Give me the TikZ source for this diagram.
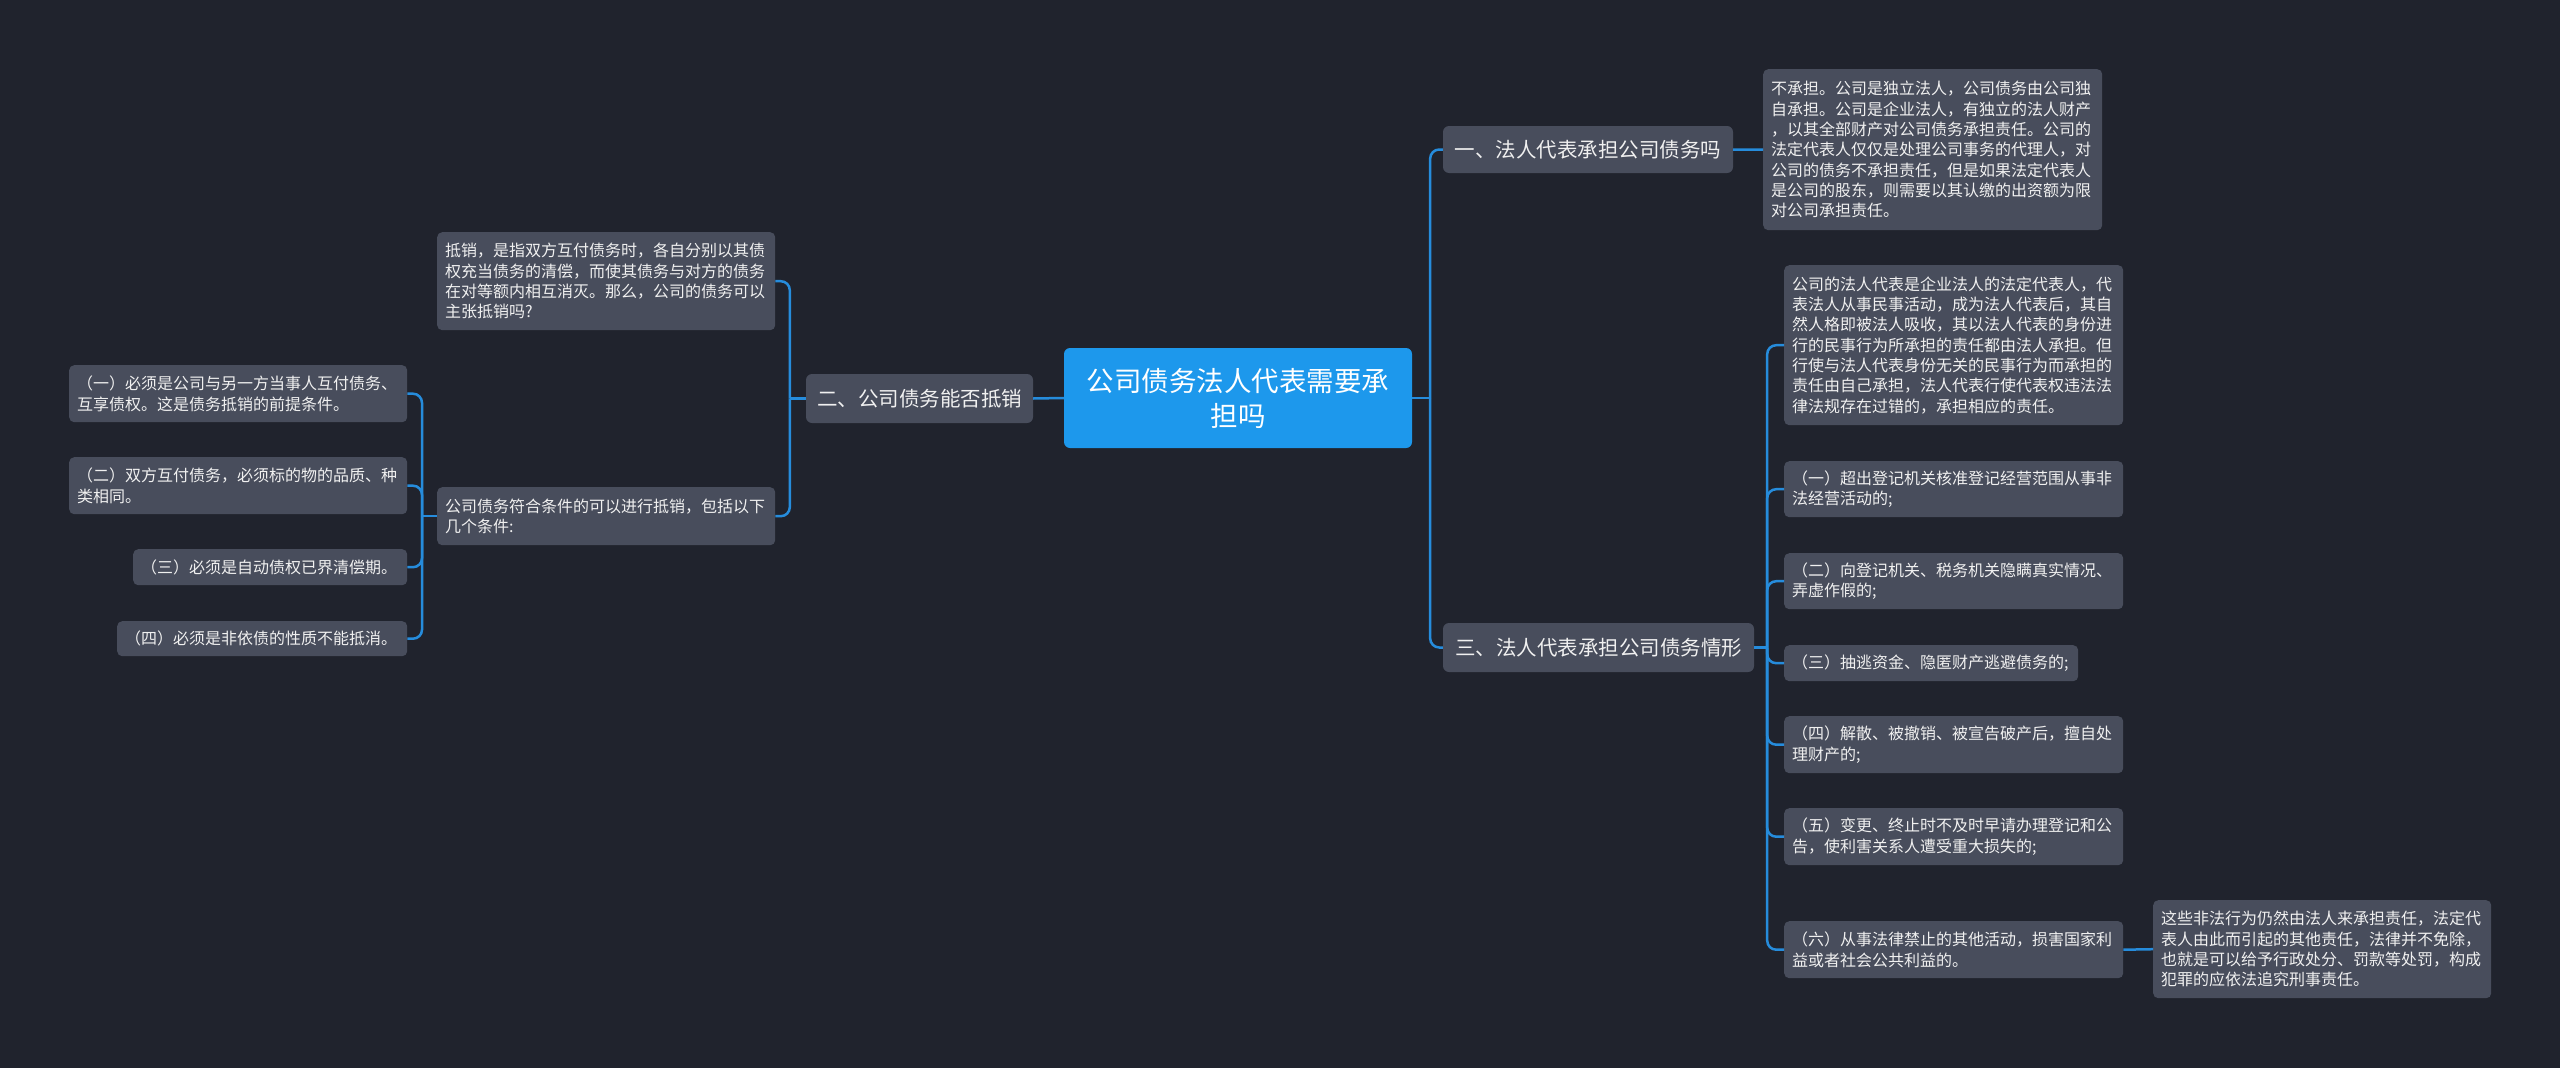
\documentclass[tikz,border=0pt]{standalone}
\usepackage{fontspec}
\usetikzlibrary{calc}
\setmainfont{Noto Sans CJK SC}
\definecolor{bg}{RGB}{32,35,45}
\definecolor{boxc}{RGB}{72,77,92}
\definecolor{centc}{RGB}{29,152,236}
\definecolor{linec}{RGB}{38,140,220}
\definecolor{txt}{RGB}{240,240,240}
\tikzset{
  leaf/.style={fill=boxc, rounded corners=5pt, text=txt, inner xsep=8pt, inner ysep=0pt,
    align=left, anchor=north west, font=\fontsize{16}{20.3}\selectfont},
  mid/.style={fill=boxc, rounded corners=6pt, text=txt, inner sep=0pt, align=center,
    font=\fontsize{20.5}{26}\selectfont},
  conn/.style={draw=linec, line width=2.5pt},
  rconn/.style={draw=linec, line width=2.5pt, rounded corners=9pt}
}
\begin{document}
\begin{tikzpicture}[x=1pt,y=-1pt]
\fill[bg] (0,0) rectangle (2560,1068);
\useasboundingbox (0,0) rectangle (2560,1068);

% centre
\node[fill=centc, rounded corners=6pt, text=white, inner sep=0pt, align=center,
  minimum width=348pt, minimum height=100pt, font=\fontsize{27.5}{35}\selectfont]
  (c) at (1238,398) {公司债务法人代表需要承\\担吗};

% first-level
\node[mid, minimum width=290pt, minimum height=47pt] (n1) at (1588,149.5) {一、法人代表承担公司债务吗};
\node[mid, minimum width=311pt, minimum height=49pt] (n3) at (1598.5,647.5) {三、法人代表承担公司债务情形};
\node[mid, minimum width=227pt, minimum height=49pt] (n2) at (919.5,398.5) {二、公司债务能否抵销};

% right leaves
\node[leaf, minimum width=339pt, minimum height=161pt, text width=323pt] (r1) at (1763,69)
{不承担。公司是独立法人，公司债务由公司独\\自承担。公司是企业法人，有独立的法人财产\\，以其全部财产对公司债务承担责任。公司的\\法定代表人仅仅是处理公司事务的代理人，对\\公司的债务不承担责任，但是如果法定代表人\\是公司的股东，则需要以其认缴的出资额为限\\对公司承担责任。};

\node[leaf, minimum width=339pt, minimum height=160pt, text width=323pt] (s0) at (1784,265)
{公司的法人代表是企业法人的法定代表人，代\\表法人从事民事活动，成为法人代表后，其自\\然人格即被法人吸收，其以法人代表的身份进\\行的民事行为所承担的责任都由法人承担。但\\行使与法人代表身份无关的民事行为而承担的\\责任由自己承担，法人代表行使代表权违法法\\律法规存在过错的，承担相应的责任。};

\node[leaf, minimum width=339pt, minimum height=56pt, text width=323pt] (s1) at (1784,461)
{（一）超出登记机关核准登记经营范围从事非\\法经营活动的;};
\node[leaf, minimum width=339pt, minimum height=56pt, text width=323pt] (s2) at (1784,553)
{（二）向登记机关、税务机关隐瞒真实情况、\\弄虚作假的;};
\node[leaf, minimum width=294pt, minimum height=36pt, text width=278pt] (s3) at (1784,645)
{（三）抽逃资金、隐匿财产逃避债务的;};
\node[leaf, minimum width=339pt, minimum height=57pt, text width=323pt] (s4) at (1784,716)
{（四）解散、被撤销、被宣告破产后，擅自处\\理财产的;};
\node[leaf, minimum width=339pt, minimum height=57pt, text width=323pt] (s5) at (1784,808)
{（五）变更、终止时不及时早请办理登记和公\\告，使利害关系人遭受重大损失的;};
\node[leaf, minimum width=339pt, minimum height=57pt, text width=323pt] (s6) at (1784,921)
{（六）从事法律禁止的其他活动，损害国家利\\益或者社会公共利益的。};

\node[leaf, minimum width=338pt, minimum height=98pt, text width=322pt] (f) at (2153,900)
{这些非法行为仍然由法人来承担责任，法定代\\表人由此而引起的其他责任，法律并不免除，\\也就是可以给予行政处分、罚款等处罚，构成\\犯罪的应依法追究刑事责任。};

% left leaves
\node[leaf, minimum width=338pt, minimum height=98pt, text width=322pt] (a) at (437,232)
{抵销，是指双方互付债务时，各自分别以其债\\权充当债务的清偿，而使其债务与对方的债务\\在对等额内相互消灭。那么，公司的债务可以\\主张抵销吗?};
\node[leaf, minimum width=338pt, minimum height=58pt, text width=322pt] (b) at (437,487)
{公司债务符合条件的可以进行抵销，包括以下\\几个条件:};

\node[leaf, minimum width=338pt, minimum height=57pt, text width=322pt] (b1) at (69,365)
{（一）必须是公司与另一方当事人互付债务、\\互享债权。这是债务抵销的前提条件。};
\node[leaf, minimum width=338pt, minimum height=57pt, text width=322pt] (b2) at (69,457)
{（二）双方互付债务，必须标的物的品质、种\\类相同。};
\node[leaf, minimum width=274pt, minimum height=36pt, text width=258pt] (b3) at (133,549)
{（三）必须是自动债权已界清偿期。};
\node[leaf, minimum width=290pt, minimum height=35pt, text width=274pt] (b4) at (117,621)
{（四）必须是非依债的性质不能抵消。};

% junction coordinates
\coordinate (jc) at ($(c.east)+(18,0)$);
\coordinate (j3) at ($(n3.east)+(13,0)$);
\coordinate (jl) at ($(n2.west)+(-16,0)$);
\coordinate (jb) at ($(b.west)+(-15,0)$);

% connectors right
\draw[conn] (c.east) -- (jc);
\draw[rconn] (jc) |- (n1.west);
\draw[rconn] (jc) |- (n3.west);
\draw[conn] (n1.east) -- (r1.west);
\draw[conn] (n3.east) -- (j3);
\foreach \t in {s0,s1,s2,s3,s4,s5,s6} { \draw[rconn] (j3) |- (\t.west); }
\draw[conn] (s6.east) -- (f.west);

% connectors left
\draw[conn] (c.west) -- (n2.east);
\draw[conn] (n2.west) -- (jl);
\draw[rconn] (jl) |- (a.east);
\draw[rconn] (jl) |- (b.east);
\draw[conn] (b.west) -- (jb);
\foreach \t in {b1,b2,b3,b4} { \draw[rconn] (jb) |- (\t.east); }
\end{tikzpicture}
\end{document}
